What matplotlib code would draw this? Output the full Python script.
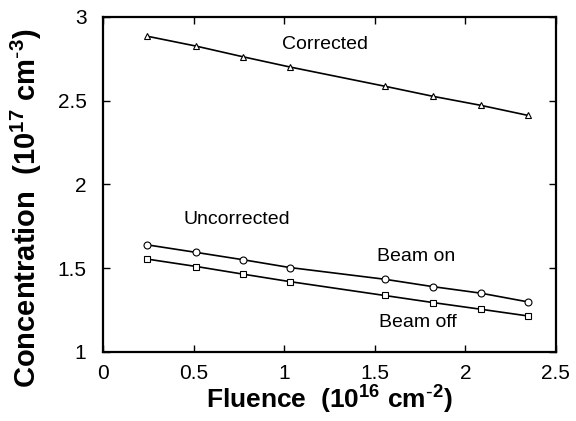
import matplotlib
matplotlib.use('Agg')
import matplotlib.pyplot as plt

plt.rcParams['font.family'] = ['Liberation Sans', 'DejaVu Sans']
plt.rcParams['mathtext.default'] = 'regular'

# fluence (1e16 cm^-2)
fluence = [0.245, 0.515, 0.775, 1.03, 1.555, 1.82, 2.085, 2.345]
# concentration (1e17 cm^-3)
corrected = [2.884, 2.825, 2.761, 2.701, 2.586, 2.526, 2.472, 2.412]
beam_on = [1.639, 1.594, 1.550, 1.504, 1.434, 1.390, 1.351, 1.299]
beam_off = [1.554, 1.510, 1.464, 1.420, 1.337, 1.295, 1.255, 1.215]

fig = plt.figure(figsize=(5.76, 4.21), dpi=100)
ax = fig.add_axes([0.179, 0.164, 0.786, 0.796])

ms = 5
ax.plot(fluence, corrected, 'k-', lw=1.2, marker='^', ms=ms, mfc='white', mew=0.8)
ax.plot(fluence, beam_on, 'k-', lw=1.2, marker='o', ms=ms, mfc='white', mew=0.8)
ax.plot(fluence, beam_off, 'k-', lw=1.2, marker='s', ms=ms - 0.5, mfc='white', mew=0.8)

ax.text(1.225, 2.835, 'Corrected', ha='center', va='center', fontsize=14)
ax.text(0.74, 1.789, 'Uncorrected', ha='center', va='center', fontsize=14)
ax.text(1.73, 1.57, 'Beam on', ha='center', va='center', fontsize=14)
ax.text(1.737, 1.175, 'Beam off', ha='center', va='center', fontsize=14)

ax.set_xlim(0, 2.5)
ax.set_ylim(1, 3)
ax.set_xticks([0, 0.5, 1, 1.5, 2, 2.5])
ax.set_xticklabels(['0', '0.5', '1', '1.5', '2', '2.5'])
ax.set_yticks([1, 1.5, 2, 2.5, 3])
ax.set_yticklabels(['1', '1.5', '2', '2.5', '3'])
ax.tick_params(direction='in', top=True, right=True, length=5, width=1,
               labelsize=15)
ax.tick_params(axis='x', pad=9)
ax.tick_params(axis='y', pad=12)
for s in ax.spines.values():
    s.set_linewidth(1.6)

ax.set_xlabel('Fluence  (10$^{16}$ cm$^{\\text{-}2}$)', fontsize=19, fontweight='bold', labelpad=0)
ax.set_ylabel('Concentration  (10$^{17}$ cm$^{\\text{-}3}$)', fontsize=21, fontweight='bold', labelpad=8)
ax.yaxis.set_label_coords(-0.13, 0.43)

fig.savefig('out.png', dpi=100)
